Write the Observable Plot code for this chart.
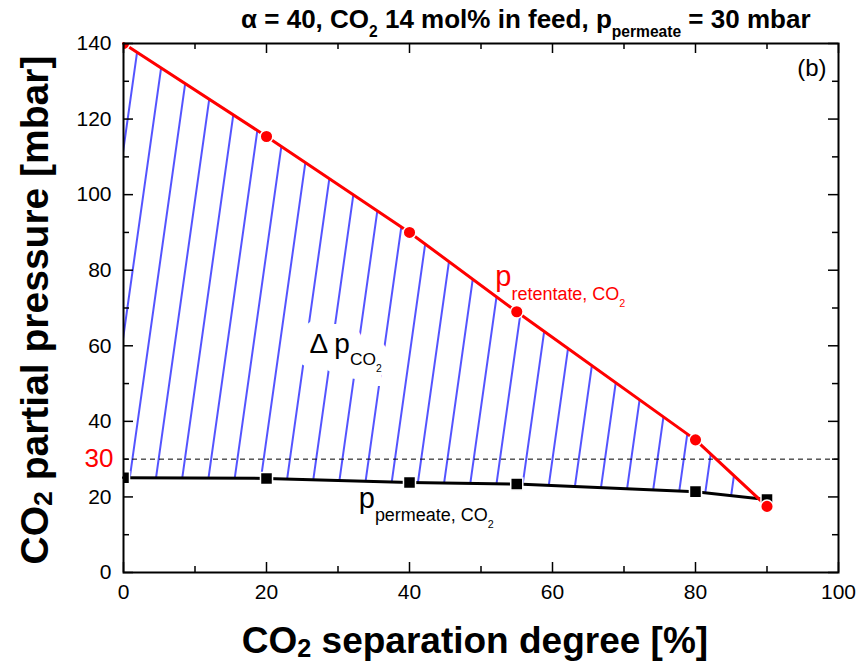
<!DOCTYPE html>
<html><head><meta charset="utf-8">
<script src="https://cdn.jsdelivr.net/npm/d3@7"></script>
<script src="https://cdn.jsdelivr.net/npm/@observablehq/plot@0.6"></script>
<style>body{margin:0;background:#fff} svg{display:block}</style>
</head><body><div id="chart"></div>
<script>
// ---- data ----
const separationDegree = [0, 20, 40, 55, 80, 90];
const pRetentate = [140, 115.4, 90, 69, 35.1, 17.5];
const pPermeate = [25.1, 24.9, 23.8, 23.4, 21.4, 19.3];
const pPermeateSetpoint = [30];
const xMajorTicks = [0, 20, 40, 60, 80, 100];
const xMinorTicks = [10, 30, 50, 70, 90];
const yMajorTicks = [0, 20, 40, 60, 80, 100, 120, 140];
const yMinorTicks = [10, 30, 50, 70, 90, 110, 130];
const titleText = ["α = 40, CO_{2} 14 mol% in feed, p_{permeate} = 30 mbar"];
const xLabel = ["CO_{2} separation degree [%]"];
const yLabel = ["CO_{2} partial pressure [mbar]"];
const retLabel = ["p_{retentate, CO_{2}}"];
const permLabel = ["p_{permeate, CO_{2}}"];
const deltaLabel = ["Δ p_{CO_{2}}"];
const panelLabel = ["(b)"];

const rows = separationDegree.map((x, i) => ({x, ret: pRetentate[i], perm: pPermeate[i]}));

// ---- layout ----
const W = 856, H = 664, mL = 123, mR = 18, mT = 43, mB = 92;
const fw = W - mL - mR, fh = H - mT - mB;

const subStyle = {
  [titleText[0]]: {size: [1, 0.6, 0.4], shift: [0, 0.38, 0.6]},
  [xLabel[0]]: {size: [1, 0.68, 0.4], shift: [0, 0.12, 0.3]},
  [yLabel[0]]: {size: [1, 0.68, 0.4], shift: [0, 0.12, 0.3]},
  default: {size: [1, 0.62, 0.37], shift: [0, 0.45, 0.7]}
};

const plot = Plot.plot({
  width: W, height: H,
  marginLeft: mL, marginRight: mR, marginTop: mT, marginBottom: mB,
  style: {fontFamily: "'Liberation Sans', Arial, sans-serif", background: "white", overflow: "visible"},
  x: {domain: [0, 100]},
  y: {domain: [0, 140]},
  marks: [
    Plot.areaY(rows, {x: "x", y1: "perm", y2: "ret", fill: "url(#hatch)"}),
    Plot.ruleY(pPermeateSetpoint, {y: d => d, stroke: "black", strokeWidth: 1, strokeDasharray: "5,4"}),
    // white box-like halo behind the Δp label
    Plot.text(deltaLabel, {x: 26, y: 58.2, textAnchor: "start", lineAnchor: "bottom", fontSize: 28,
      fill: "white", stroke: "white", strokeWidth: 28, strokeLinejoin: "round"}),
    Plot.text(deltaLabel, {x: 26, y: 58.2, textAnchor: "start", lineAnchor: "bottom", fontSize: 28, fill: "black"}),
    Plot.line(rows, {x: "x", y: "perm", stroke: "black", strokeWidth: 3}),
    Plot.line(rows, {x: "x", y: "ret", stroke: "#ff0000", strokeWidth: 3}),
    Plot.dot(rows, {x: "x", y: "perm", symbol: "square", r: 6.8, fill: "black", stroke: "white", strokeWidth: 1.5, clip: true}),
    Plot.dot(rows, {x: "x", y: "ret", r: 6.3, fill: "#ff0000", stroke: "white", strokeWidth: 1.5, clip: true}),
    // ticks (inward)
    Plot.tickX(xMajorTicks, {x: d => d, insetTop: fh - 10, stroke: "black", strokeWidth: 1.5}),
    Plot.tickX(xMajorTicks, {x: d => d, insetBottom: fh - 10, stroke: "black", strokeWidth: 1.5}),
    Plot.tickX(xMinorTicks, {x: d => d, insetTop: fh - 6, stroke: "black", strokeWidth: 1.5}),
    Plot.tickX(xMinorTicks, {x: d => d, insetBottom: fh - 6, stroke: "black", strokeWidth: 1.5}),
    Plot.tickY(yMajorTicks, {y: d => d, insetRight: fw - 10, stroke: "black", strokeWidth: 1.5}),
    Plot.tickY(yMajorTicks, {y: d => d, insetLeft: fw - 10, stroke: "black", strokeWidth: 1.5}),
    Plot.tickY(yMinorTicks, {y: d => d, insetRight: fw - 6, stroke: "black", strokeWidth: 1.5}),
    Plot.tickY(yMinorTicks, {y: d => d, insetLeft: fw - 6, stroke: "black", strokeWidth: 1.5}),
    Plot.frame({stroke: "black", strokeWidth: 2}),
    Plot.axisX({ticks: xMajorTicks, tickSize: 0, tickPadding: 12, label: null, fontSize: 21, tickFormat: d => String(d)}),
    Plot.axisY({ticks: yMajorTicks, tickSize: 0, tickPadding: 12, label: null, fontSize: 21, tickFormat: d => String(d)}),
    // annotations
    Plot.text(pPermeateSetpoint, {y: d => d, frameAnchor: "left", dx: -10, textAnchor: "end", lineAnchor: "middle", fill: "#ff0000", fontSize: 26, text: d => String(d)}),
    Plot.text(retLabel, {x: 52, y: 75.7, textAnchor: "start", lineAnchor: "bottom", fontSize: 29, fill: "#ff0000"}),
    Plot.text(permLabel, {x: 32.9, y: 17.2, textAnchor: "start", lineAnchor: "bottom", fontSize: 29, fill: "black"}),
    Plot.text(panelLabel, {frameAnchor: "top-right", dx: -12, dy: 32, textAnchor: "end", lineAnchor: "bottom", fontSize: 24, fill: "black"}),
    Plot.text(titleText, {frameAnchor: "top-right", dx: -28, dy: -16, textAnchor: "end", lineAnchor: "bottom", fontSize: 26, fontWeight: "bold", fill: "black"}),
    Plot.text(xLabel, {frameAnchor: "bottom", dx: -6, dy: 80, textAnchor: "middle", lineAnchor: "bottom", fontSize: 37, fontWeight: "bold", fill: "black"}),
    Plot.text(yLabel, {frameAnchor: "left", dx: -76, dy: 2, rotate: -90, textAnchor: "middle", lineAnchor: "bottom", fontSize: 39, fontWeight: "bold", fill: "black"})
  ]
});

document.getElementById("chart").appendChild(plot);

// hatch pattern
const defs = d3.select(plot).insert("defs", ":first-child");
const pat = defs.append("pattern").attr("id", "hatch").attr("patternUnits", "userSpaceOnUse")
  .attr("width", 26).attr("height", 40).attr("patternTransform", "rotate(8)");
pat.append("line").attr("x1", 13).attr("y1", -1).attr("x2", 13).attr("y2", 41)
  .attr("stroke", "#0000ff").attr("stroke-width", 1.35);

// subscripts
plot.querySelectorAll("text").forEach(t => {
  const raw = t.textContent;
  if (!raw.includes("_{")) return;
  const st = subStyle[raw] || subStyle.default;
  const fs = parseFloat(getComputedStyle(t).fontSize);
  const segs = []; let level = 0, buf = "";
  for (let i = 0; i < raw.length; i++) {
    if (raw[i] === "_" && raw[i + 1] === "{") { if (buf) segs.push([buf, level]); buf = ""; level++; i++; }
    else if (raw[i] === "}" && level > 0) { if (buf) segs.push([buf, level]); buf = ""; level--; }
    else buf += raw[i];
  }
  if (buf) segs.push([buf, level]);
  t.textContent = "";
  let cur = 0;
  segs.forEach(([s, l]) => {
    const ts = document.createElementNS("http://www.w3.org/2000/svg", "tspan");
    const off = st.shift[l] * fs;
    ts.setAttribute("dy", off - cur); cur = off;
    ts.setAttribute("font-size", st.size[l] * fs);
    ts.textContent = s;
    t.appendChild(ts);
  });
});
</script></body></html>
